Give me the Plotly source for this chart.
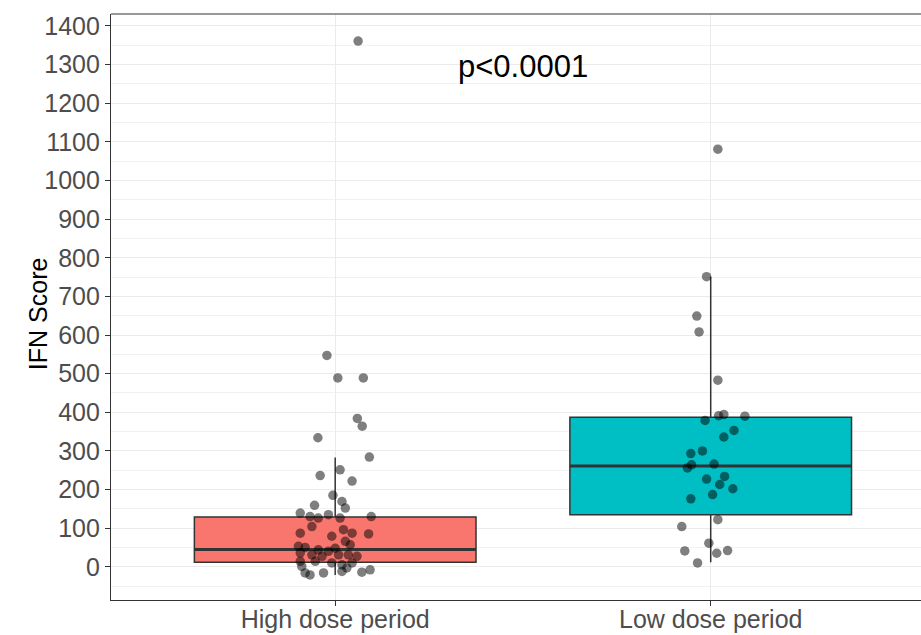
import plotly.graph_objects as go

# ---- data ----
categories = ["High dose period", "Low dose period"]

high_vals = [1361, 547, 489, 489, 384, 364, 334, 284, 251, 236, 222, 185, 159, 169, 152,
             139, 126, 130, 135, 126, 130, 87, 104, 79, 96, 87, 85, 66, 57, 53, 50, 44,
             40, 48, 36, 31, 27, 31, 31, 27, 14, 14, 10, 5, 10, -16, -21, -16, -12, -3,
             -14, -8, 1]
high_jit = [0.061, -0.022, 0.007, 0.075, 0.059, 0.072, -0.046, 0.091, 0.013, -0.040, 0.045,
            -0.006, -0.055, 0.018, 0.027, -0.093, -0.045, -0.067, -0.018, 0.013, 0.096,
            -0.093, -0.062, -0.009, 0.022, 0.045, 0.089, 0.027, 0.040, -0.098, -0.080,
            -0.045, -0.018, 0.0, -0.093, -0.062, -0.035, 0.009, 0.035, 0.058, -0.093,
            -0.053, -0.009, 0.018, 0.045, -0.080, -0.067, -0.031, 0.018, 0.031, 0.071,
            0.093, -0.089]

low_vals = [1081, 751, 649, 608, 483, 379, 391, 394, 390, 353, 336, 300, 293, 264, 256,
            266, 227, 234, 213, 202, 187, 176, 122, 104, 61, 41, 35, 42, 10]
low_jit = [0.019, -0.011, -0.037, -0.031, 0.019, -0.015, 0.021, 0.035, 0.091, 0.062, 0.035,
           -0.022, -0.053, -0.051, -0.062, 0.009, -0.011, 0.037, 0.024, 0.059, 0.005,
           -0.053, 0.019, -0.077, -0.005, -0.069, 0.016, 0.045, -0.035]

# box statistics
box_q1 = [12, 135]
box_median = [45, 261]
box_q3 = [129, 387]
box_lower = [-21, 12]
box_upper = [283, 751]

fills = ["#F8766D", "#00BFC4"]
box_width = 0.75

fig = go.Figure()

for i, cat in enumerate(categories):
    fig.add_trace(go.Box(
        x=[i], q1=[box_q1[i]], median=[box_median[i]], q3=[box_q3[i]],
        lowerfence=[box_lower[i]], upperfence=[box_upper[i]],
        width=box_width, fillcolor=fills[i], whiskerwidth=0,
        line=dict(color="#333333", width=1.5),
        boxpoints=False, showlegend=False, hoverinfo="skip", name=cat,
    ))
    # thicker median line
    fig.add_trace(go.Scatter(
        x=[i - box_width / 2, i + box_width / 2], y=[box_median[i], box_median[i]],
        mode="lines", line=dict(color="#333333", width=3),
        showlegend=False, hoverinfo="skip",
    ))

groups = [(high_vals, high_jit), (low_vals, low_jit)]
for i, (vals, jit) in enumerate(groups):
    fig.add_trace(go.Scatter(
        x=[i + j for j in jit], y=vals, mode="markers",
        marker=dict(color="rgba(0,0,0,0.5)", size=9.5, line=dict(width=0)),
        showlegend=False,
    ))

fig.add_annotation(x=0.5, y=1295, text="p<0.0001", showarrow=False,
                   font=dict(size=31, color="black", family="Liberation Sans"))

# y-axis title
fig.add_annotation(xref="paper", yref="paper", x=-0.09, y=0.488, text="IFN Score",
                   textangle=-90, showarrow=False, xanchor="center", yanchor="middle",
                   font=dict(size=25, color="black", family="Liberation Sans"))

# top panel border
fig.add_shape(type="line", xref="paper", yref="paper", x0=0, x1=1, y0=1, y1=1,
              line=dict(color="#333333", width=1.2))

fig.update_layout(
    width=921, height=635,
    margin=dict(l=111, r=0, t=14, b=35),
    plot_bgcolor="white", paper_bgcolor="white",
    font=dict(family="Liberation Sans"),
    xaxis=dict(
        range=[-0.597, 1.56], tickvals=[0, 1], ticktext=categories,
        tickfont=dict(size=25, color="#4D4D4D"), automargin=False,
        ticklabelstandoff=-8,
        showgrid=True, gridcolor="#EBEBEB", gridwidth=1.1,
        zeroline=False, showline=True, linecolor="#333333", linewidth=1.2, mirror=False,
        ticks="outside", ticklen=5, tickcolor="#333333",
    ),
    yaxis=dict(
        range=[-86, 1431], tickvals=list(range(0, 1401, 100)),
        tickfont=dict(size=25, color="#4D4D4D"), automargin=False,
        showgrid=True, gridcolor="#EBEBEB", gridwidth=1.1,
        minor=dict(tickvals=list(range(-50, 1451, 100)), showgrid=True,
                   gridcolor="#F2F2F2", gridwidth=0.6),
        zeroline=False, showline=True, linecolor="#333333", linewidth=1.2, mirror=False,
        ticks="outside", ticklen=5, tickcolor="#333333",
    ),
)

fig.write_html("out.html", config={"displayModeBar": False},
               post_script="document.body.style.margin='0';document.body.style.padding='0';")
